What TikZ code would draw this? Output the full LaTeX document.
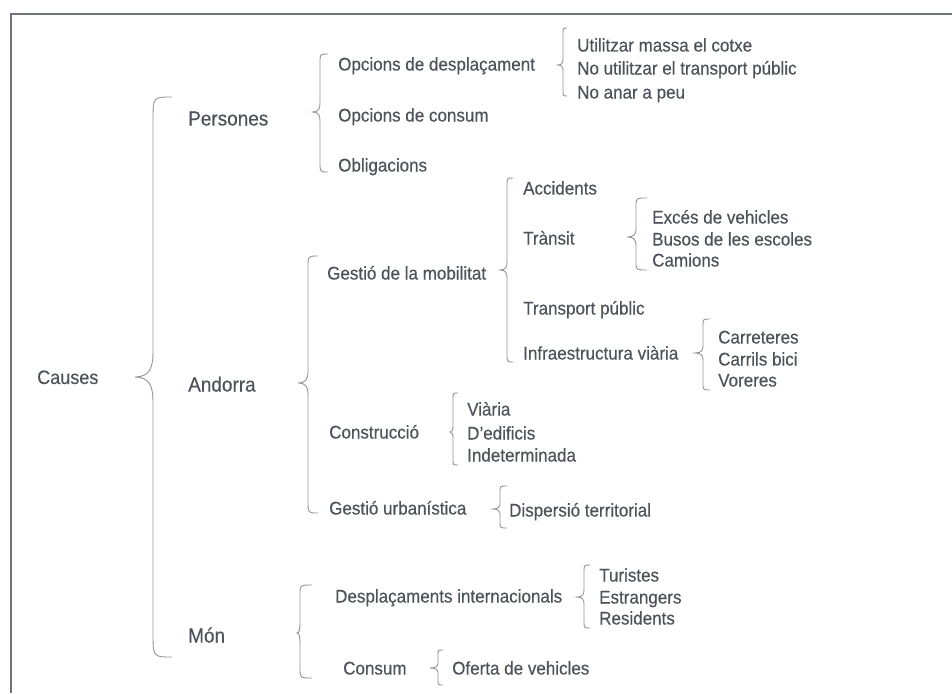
\documentclass[tikz,border=0pt]{standalone}
\usepackage{fontspec}
\setmainfont{Liberation Sans}
\newfontfamily\lblfont{Liberation Sans}[FakeStretch=0.93, FakeBold=0.4]
\definecolor{txt}{RGB}{78,83,90}
\definecolor{brc}{RGB}{145,148,152}
\definecolor{frm}{RGB}{112,116,122}
% spine x, top y, tip y, bottom y, tip depth, curl dx, curl r
\newcommand\cbrace[7]{%
  \draw[bracestyle] (#1+#6,#2) .. controls (#1,#2) .. (#1,#2+#7) -- (#1,#3-#7)
    .. controls (#1,#3-#7*0.4) and (#1-#5*0.2,#3) .. (#1-#5,#3)
    .. controls (#1-#5*0.2,#3) and (#1,#3+#7*0.4) .. (#1,#3+#7)
    -- (#1,#4-#7) .. controls (#1,#4) .. (#1+#6,#4);}
\begin{document}
\begin{tikzpicture}[x=1pt,y=-1pt,
  lbl/.style={anchor=base west, inner sep=0pt, text=txt, font=\lblfont\fontsize{18.3}{21}\selectfont},
  lvlone/.style={lbl, font=\lblfont\fontsize{20.4}{24}\selectfont},
  lvlzero/.style={lbl, font=\lblfont\fontsize{19.4}{24}\selectfont},
  bracestyle/.style={draw=brc, line width=0.9pt},
  framestyle/.style={draw=frm, line width=1.8pt}]
\useasboundingbox (0,0) rectangle (952,693);
\coordinate (fa) at (11,693);
\coordinate (fb) at (11,14);
\coordinate (fc) at (952,14);
\draw[framestyle] (fa) -- (fb) -- (fc);

\node[lvlzero] (causes) at (37,384) {Causes};
\node[lvlone] (per) at (188,125.5) {Persones};
\node[lvlone] (and) at (188,391.5) {Andorra};
\node[lvlone] (mon) at (188,642.5) {Món};

\node[lbl] (opd) at (338,70.5) {Opcions de desplaçament};
\node[lbl] (opc) at (338,121.5) {Opcions de consum};
\node[lbl] (obl) at (338,171.5) {Obligacions};
\node[lbl] (ut1) at (577,51.5) {Utilitzar massa el cotxe};
\node[lbl] (ut2) at (577,74.5) {No utilitzar el transport públic};
\node[lbl] (ut3) at (577,98.5) {No anar a peu};

\node[lbl] (gm) at (327,279.5) {Gestió de la mobilitat};
\node[lbl] (acc) at (523,194.5) {Accidents};
\node[lbl] (tra) at (523,244.5) {Trànsit};
\node[lbl] (exc) at (652,223.5) {Excés de vehicles};
\node[lbl] (bus) at (652,245.5) {Busos de les escoles};
\node[lbl] (cam) at (652,266.5) {Camions};
\node[lbl] (tp) at (523,314.5) {Transport públic};
\node[lbl] (inf) at (523,359.5) {Infraestructura viària};
\node[lbl] (car) at (718,343.5) {Carreteres};
\node[lbl] (cb) at (718,365.5) {Carrils bici};
\node[lbl] (vor) at (718,386.5) {Voreres};

\node[lbl] (con) at (329,438.5) {Construcció};
\node[lbl] (via) at (467,415.5) {Viària};
\node[lbl] (ded) at (467,439.5) {D’edificis};
\node[lbl] (ind) at (467,461.5) {Indeterminada};
\node[lbl] (gu) at (329,514.5) {Gestió urbanística};
\node[lbl] (dis) at (509,516.5) {Dispersió territorial};

\node[lbl] (di) at (335,602.5) {Desplaçaments internacionals};
\node[lbl] (tur) at (599,581.5) {Turistes};
\node[lbl] (est) at (599,603.5) {Estrangers};
\node[lbl] (res) at (599,624.5) {Residents};
\node[lbl] (cns) at (343,674.5) {Consum};
\node[lbl] (ofe) at (452,674.5) {Oferta de vehicles};

\cbrace{153}{97}{377}{657}{18}{19}{24}
\cbrace{320}{54}{112}{172}{7}{8}{9}
\cbrace{563}{28}{65}{96}{5}{4}{6}
\cbrace{308}{256}{383}{513}{10}{10}{11}
\cbrace{507}{178}{270}{362}{7}{6}{8}
\cbrace{636}{198}{237}{270}{9}{11}{8}
\cbrace{703}{319}{353}{390}{8}{7}{7}
\cbrace{453}{393}{432}{465}{3}{5}{6}
\cbrace{500}{486}{509}{528}{7}{7}{6}
\cbrace{300}{585}{633}{678}{3}{12}{10}
\cbrace{584}{565}{597}{628}{7}{6}{7}
\cbrace{438}{650}{668}{685}{8}{5}{5}
\end{tikzpicture}
\end{document}
